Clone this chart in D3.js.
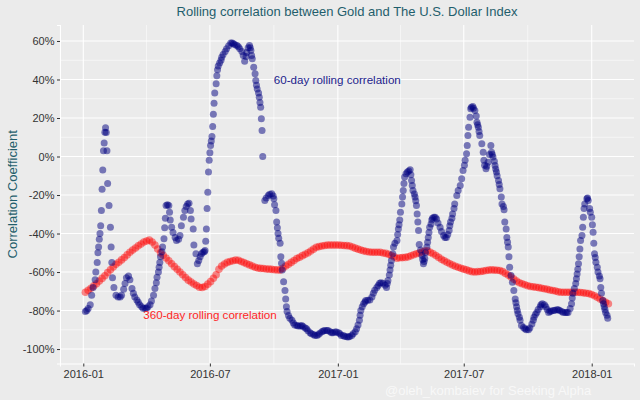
<!DOCTYPE html>
<html>
<head>
<meta charset="utf-8">
<script src="https://cdn.jsdelivr.net/npm/d3@7"></script>
<style>
  html, body { margin: 0; padding: 0; background: #ebebeb; }
  svg { display: block; }
  text { font-family: "Liberation Sans", Arial, Helvetica, sans-serif; }
</style>
</head>
<body>
<svg id="chart" width="640" height="400"></svg>
<script>
// ---------------- DATA ----------------
const startDate = "2016-01-01";            // day 0 of the day offsets below
const titleText = "Rolling correlation between Gold and The U.S. Dollar Index";
const yTitle = "Correlation Coefficient";
const label60 = "60-day rolling correlation";
const label360 = "360-day rolling correlation";
const watermark = "@oleh_kombaiev for Seeking Alpha";

// x-axis tick labels (major) and minor break dates
const xMajorTicks = ["2016-01-01", "2016-07-01", "2017-01-01", "2017-07-01", "2018-01-01"];
const xMinorTicks = ["2016-04-01", "2016-10-01", "2017-04-01", "2017-10-01"];
// y-axis ticks (percent)
const yMajorTicks = [-100, -80, -60, -40, -20, 0, 20, 40, 60];
const yMinorTicks = [-90, -70, -50, -30, -10, 10, 30, 50];

// 60-day rolling correlation: [days since startDate, correlation %]
const sixtyDay = [
[3,-80.5],[5,-80],[7,-79],[10,-77],[12,-72],[14,-68],[17,-64],[18,-60],[20,-55],[21,-50],[22,-47],[23,-43],[24,-40],[25,-36],[26,-28],
[27,-17],[28,-7],[29,3],[30,7],[31,12.6],[32,15],[33,12.5],[34,3],[35,-14],[37,-25.5],[39,-36.7],[40,-47],[41,-55],[42,-63],[44,-68],
[47,-72],[50,-73],[53,-73],[55,-72],[58,-69],[60,-66],[62,-63],[65,-62],[67,-64],[70,-68.6],[72,-71],[74,-73],[77,-74.5],[79,-75.7],
[81,-77],[84,-78],[86,-78.8],[89,-79],[91,-78.8],[93,-78],[96,-77],[98,-75],[101,-72],[103,-68.6],[105,-65.5],[106,-62.7],[108,-60],
[109,-57.5],[110,-55],[111,-52],[113,-49.5],[114,-47],[116,-42.7],[117,-37],[118,-32],[119,-25.5],[121,-25],[123,-25.5],[124,-29],
[125,-33],[127,-36.7],[129,-39.5],[132,-42],[134,-43.6],[137,-43],[139,-41],[141,-36],[144,-31.5],[146,-28],[148,-26],[150,-24.6],
[152,-24.3],[154,-28],[155,-32.4],[158,-37.6],[159,-46],[162,-50.5],[164,-55.7],[166,-54],[168,-52],[170,-50.5],[172,-49.7],[174,-49.5],
[175,-48.8],[176,-44],[177,-37.6],[178,-27],[179,-18.5],[180,-8],[181,-2],[182,2],[183,5.7],[184,8],[185,10.4],[186,15.6],[187,22],
[188,27.7],[189,33],[191,37.8],[192,42],[193,45],[194,47],[196,48.5],[198,50],[199,51.5],[201,53],[204,54.5],[206,56],[209,57.5],
[212,59],[214,59],[216,58.5],[218,58],[221,57.6],[223,57],[225,56],[228,54.5],[230,52.5],[232,49.5],[234,52],[235,54],[237,56.5],
[239,57.6],[240,56.5],[241,55],[242,52.5],[243,50.8],[245,46.4],[247,43],[248,39.5],[249,37],[250,35],[252,33],[253,30.8],[254,28],
[255,25.6],[256,19.6],[257,13.5],[258,0],[261,-22.9],[263,-21.5],[266,-20.3],[268,-19.6],[271,-19.4],[273,-20.5],[274,-22],[275,-25],
[277,-28],[278,-34],[279,-37],[280,-40],[281,-42.5],[283,-45],[284,-52],[285,-55.5],[286,-59],[288,-65],[290,-69.6],[291,-74],[292,-78],
[293,-80.5],[295,-82.6],[297,-84],[300,-85],[302,-86.5],[304,-87.5],[307,-87.8],[309,-88],[312,-88],[314,-87.8],[316,-88.3],[319,-89],
[321,-89.5],[323,-90.5],[326,-91.5],[328,-92],[331,-92.5],[333,-93],[336,-93],[338,-92.5],[340,-91.8],[343,-91],[345,-90.6],[347,-90.4],
[350,-90.4],[352,-90.4],[355,-91],[357,-91.5],[359,-91.5],[362,-91.2],[364,-91.2],[367,-91.5],[369,-92],[371,-93],[374,-93],[376,-93.5],
[379,-93.6],[381,-93.8],[383,-93.5],[386,-93],[388,-92],[391,-91],[393,-89.5],[395,-87.5],[397,-85],[398,-82.5],[399,-80],[401,-78],
[403,-76.5],[405,-75.5],[406,-74.8],[409,-74.6],[412,-74.5],[415,-73],[417,-71],[419,-69.5],[422,-68],[424,-67],[426,-65.8],[428,-65.5],
[431,-65.8],[434,-66.8],[436,-68],[437,-66],[438,-64.4],[440,-61.5],[441,-59],[442,-56.5],[443,-54],[445,-50.5],[446,-47],[448,-45],
[451,-43.6],[452,-40.5],[453,-37.6],[454,-35.5],[455,-33],[456,-29],[458,-24.6],[459,-21],[460,-17.7],[461,-14],[462,-10.7],[464,-9],
[466,-8.1],[468,-7.5],[470,-6.9],[471,-9.5],[472,-12.5],[473,-15],[474,-17.7],[476,-19.5],[477,-21],[478,-23],[479,-25.5],[480,-29.8],
[481,-34],[482,-38.4],[483,-45.7],[485,-48.5],[487,-51.4],[488,-53.5],[489,-55.7],[490,-54.5],[491,-53],[492,-50],[494,-47],[495,-44.5],
[496,-42],[497,-39.5],[498,-36.7],[500,-35],[501,-33],[502,-32],[504,-31.5],[506,-31.5],[508,-32.4],[510,-34.5],[513,-36.7],[515,-39],
[518,-41],[520,-42],[522,-42],[524,-40.5],[526,-38.4],[527,-36],[528,-34],[530,-32],[531,-29.8],[533,-27],[534,-24.6],[537,-20.3],
[539,-17.7],[542,-15],[544,-11.6],[546,-7.3],[548,-4.5],[549,-2],[551,1.4],[552,5.7],[553,10.9],[554,15.2],[556,20.4],[557,24.8],
[558,25.6],[560,26],[561,25],[563,23.9],[565,21],[566,17.8],[567,16.5],[568,15.2],[569,13],[570,10.9],[573,6.6],[575,2.2],[576,-2],
[577,-4.5],[579,-6.4],[580,-5],[582,-3],[584,1],[586,5.7],[587,2.2],[588,1],[589,-0.3],[591,-2.5],[592,-4.7],[593,-6.5],[594,-8],
[595,-10],[597,-12.5],[598,-14.5],[599,-16.8],[601,-21],[602,-24.6],[604,-26],[605,-27.7],[606,-34],[608,-37.6],[609,-42],[610,-44.5],
[611,-47],[612,-52],[613,-57.5],[615,-61.8],[617,-65.3],[619,-69.6],[621,-74],[622,-76],[623,-78],[624,-80],[625,-81.7],[627,-83.5],
[628,-85],[630,-87.8],[633,-88.8],[635,-89.5],[637,-90],[640,-90],[642,-89],[645,-87],[647,-85],[648,-83.5],[650,-82],[652,-81],
[654,-79.5],[657,-78],[658,-77],[660,-76.5],[663,-77],[665,-78],[667,-79.5],[669,-81],[671,-80.5],[673,-80.2],[676,-80],[678,-79.8],
[681,-79.6],[683,-79.6],[685,-80],[688,-80.5],[690,-81],[693,-81],[695,-81],[697,-81],[700,-79],[702,-76.5],[703,-73.5],[704,-71],
[706,-68.5],[708,-66],[709,-63.5],[710,-61],[711,-58.5],[712,-55.7],[713,-52],[714,-48],[715,-43.6],[717,-41],[718,-36.7],[719,-31.5],
[720,-27],[721,-24.6],[724,-22],[725,-21.5],[726,-22.9],[728,-27],[729,-29],[731,-31.5],[732,-35.5],[733,-39.3],[734,-45],[735,-50.5],
[736,-52.5],[737,-54.9],[739,-57.5],[740,-60],[742,-62],[743,-63.5],[744,-68],[745,-71],[747,-74.8],[748,-76.5],[749,-78],[750,-79.5],
[751,-81],[753,-82.5],[754,-84]
];

// 360-day rolling correlation (%), one value every 4 days starting at day 3
const threeSixtyFirstDay = 3;
const threeSixtyStep = 4;
const threeSixtyDay = [
-70.5,-69.5,-68.4,-67.2,-66.1,-64.7,-63.3,-61.9,-60.3,-58.8,-57.4,-56,-54.9,-53.7,-52.5,-51.1,-49.7,-48.6,-47.5,-46.4,
-45.4,-44.4,-43.9,-43.4,-44.4,-46,-48,-50,-51.3,-52.7,-54.2,-55.7,-57.2,-58.6,-60,-61.4,-62.9,-64.2,-65.2,-66.2,
-67,-67.9,-68,-67.5,-66.3,-65,-63.2,-61.4,-58.6,-56.9,-55.8,-55,-54.5,-54.1,-53.8,-53.9,-54.5,-55.1,-55.7,-56.3,
-56.9,-57.5,-57.9,-58.1,-58.2,-58.4,-58.5,-58.6,-58.8,-58.9,-59,-58,-56.9,-56,-55,-54,-53,-52.3,-51.5,-50.8,
-50,-49.1,-48.1,-47.1,-46.8,-46.5,-46.2,-46,-46,-46,-46,-46,-46.1,-46.2,-46.3,-46.5,-47,-47.6,-48.1,-48.6,
-49,-49.3,-49.6,-49.7,-49.7,-49.7,-49.7,-50.1,-50.3,-50.8,-51.4,-52.1,-52.8,-52.6,-52.5,-52.4,-52.1,-51.6,-51,-50.5,
-50.1,-49.6,-49.1,-49,-49.8,-50.5,-51.4,-52.4,-53.4,-54.2,-54.9,-55.7,-56.4,-57,-57.5,-58,-58.5,-58.9,-59.4,-59.8,
-60,-59.8,-59.7,-59.5,-59.2,-59,-58.9,-59,-59.1,-59.2,-59.8,-60.7,-61.6,-62.6,-63.7,-64.7,-65.6,-66.1,-66.6,-67.1,
-67.5,-67.7,-67.9,-68.1,-68.4,-68.7,-69,-69.3,-69.6,-69.9,-70.3,-70.5,-70.5,-70.5,-70.5,-70.5,-70.5,-70.5,-70.6,-70.8,
-71,-71.2,-71.7,-72.3,-73.1,-74,-74.8,-75.7,-76.5
];

// ---------------- CHART ----------------
const W = 640, H = 400;
const panel = { left: 60, right: 634, top: 25, bottom: 363.5 };
const DAY = 864e5;
const t0 = Date.parse(startDate + "T00:00:00Z");
const toDate = d => new Date(t0 + d * DAY);
const parse = s => new Date(s + "T00:00:00Z");

const svg = d3.select("#chart");

const x = d3.scaleUtc()
  .domain([toDate(-33.5), toDate(791.8)])
  .range([panel.left, panel.right]);
const y = d3.scaleLinear()
  .domain([-107.5, 68.3])
  .range([panel.bottom, panel.top]);

// backgrounds
svg.append("rect").attr("width", W).attr("height", H).attr("fill", "#ebebeb");
svg.append("rect")
  .attr("x", panel.left).attr("y", panel.top)
  .attr("width", panel.right - panel.left).attr("height", panel.bottom - panel.top)
  .attr("fill", "#ebebeb");

const grid = svg.append("g");
// minor grid
grid.selectAll(".ymin").data(yMinorTicks).enter().append("line")
  .attr("x1", panel.left).attr("x2", panel.right)
  .attr("y1", d => y(d)).attr("y2", d => y(d))
  .attr("stroke", "#ffffff").attr("stroke-width", 0.55);
grid.selectAll(".xmin").data(xMinorTicks.map(parse)).enter().append("line")
  .attr("y1", panel.top).attr("y2", panel.bottom)
  .attr("x1", d => x(d)).attr("x2", d => x(d))
  .attr("stroke", "#ffffff").attr("stroke-width", 0.55);
// major grid
grid.selectAll(".ymaj").data(yMajorTicks).enter().append("line")
  .attr("x1", panel.left).attr("x2", panel.right)
  .attr("y1", d => y(d)).attr("y2", d => y(d))
  .attr("stroke", "#ffffff").attr("stroke-width", 1.1);
grid.selectAll(".xmaj").data(xMajorTicks.map(parse)).enter().append("line")
  .attr("y1", panel.top).attr("y2", panel.bottom)
  .attr("x1", d => x(d)).attr("x2", d => x(d))
  .attr("stroke", "#ffffff").attr("stroke-width", 1.1);

// axes
const xAxis = d3.axisBottom(x)
  .tickValues(xMajorTicks.map(parse))
  .tickFormat(d3.utcFormat("%Y-%m"))
  .tickSize(3).tickPadding(3.5);
const gx = svg.append("g").attr("transform", `translate(0,${panel.bottom})`).call(xAxis);

const yAxis = d3.axisLeft(y)
  .tickValues(yMajorTicks)
  .tickFormat(d => d + "%")
  .tickSize(3).tickPadding(2.5);
const gy = svg.append("g").attr("transform", `translate(${panel.left},0)`).call(yAxis);

[gx, gy].forEach(g => {
  g.select(".domain").attr("stroke", "#ffffff").attr("stroke-width", 1.1);
  g.selectAll(".tick line").attr("stroke", "#333333").attr("stroke-width", 1);
  g.selectAll(".tick text")
    .attr("fill", "#333333")
    .style("font-size", "11px")
    .style("font-family", "'Liberation Sans', Arial, sans-serif");
});

// points: 360-day (red) then 60-day (navy)
const redData = threeSixtyDay.map((v, i) => ({ date: toDate(threeSixtyFirstDay + i * threeSixtyStep), v }));
svg.append("g").selectAll("circle").data(redData).enter().append("circle")
  .attr("cx", d => x(d.date)).attr("cy", d => y(d.v))
  .attr("r", 3.8)
  .attr("fill", "#ff0000").attr("fill-opacity", 0.45);

const blueData = sixtyDay.map(([d, v]) => ({ date: toDate(d), v }));
svg.append("g").selectAll("circle").data(blueData).enter().append("circle")
  .attr("cx", d => x(d.date)).attr("cy", d => y(d.v))
  .attr("r", 3.5)
  .attr("fill", "#000080").attr("fill-opacity", 0.5);

// annotations
svg.append("text")
  .attr("x", x(toDate(274))).attr("y", y(37.7))
  .attr("fill", "#1c1c8c").style("font-size", "11.6px")
  .text(label60);
svg.append("text")
  .attr("x", x(toDate(86.3))).attr("y", y(-84.4))
  .attr("fill", "#ff2626").style("font-size", "11.6px")
  .text(label360);

// title
svg.append("text")
  .attr("x", (panel.left + panel.right) / 2).attr("y", 16)
  .attr("text-anchor", "middle")
  .attr("fill", "#1f5e6c").style("font-size", "13px")
  .text(titleText);

// y title
svg.append("text")
  .attr("transform", `translate(16.5,${(panel.top + panel.bottom) / 2}) rotate(-90)`)
  .attr("text-anchor", "middle")
  .attr("fill", "#1f5e6c").style("font-size", "13px")
  .text(yTitle);

// watermark
svg.append("text")
  .attr("x", 385).attr("y", 394.5)
  .attr("fill", "#f8f8f8").style("font-size", "13px")
  .text(watermark);
</script>
</body>
</html>
